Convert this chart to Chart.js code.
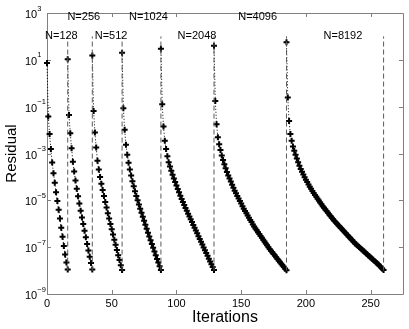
<!DOCTYPE html>
<html>
<head>
<meta charset="utf-8">
<script src="https://cdn.jsdelivr.net/npm/chart.js@4/dist/chart.umd.min.js"></script>
<style>
  html, body { margin: 0; padding: 0; background: #fff; overflow: hidden; }
</style>
</head>
<body>
<canvas id="residual-plot" width="409" height="329"></canvas>
<script>
// grid levels and the iteration at which each one starts
const gridLabels = ["N=128", "N=256", "N=512", "N=1024", "N=2048", "N=4096", "N=8192"];
const iterStart = [0, 16, 35, 58, 88, 129, 185];
const restartIters = [16, 35, 58, 88, 129, 185, 260];

// log10 of the residual, one value per iteration
const logRes128 = [0.87, -1.42, -2.17, -2.81, -3.38, -3.84, -4.25, -4.65, -5.03, -5.40, -5.78, -6.17,
  -6.55, -6.95, -7.31, -7.65, -7.95];
const logRes256 = [1.02, -1.36, -2.14, -2.78, -3.35, -3.77, -4.15, -4.50, -4.83, -5.14, -5.44, -5.73,
  -6.01, -6.30, -6.58, -6.86, -7.14, -7.41, -7.68, -7.95];
const logRes512 = [1.19, -1.18, -2.10, -2.74, -3.31, -3.68, -4.00, -4.29, -4.56, -4.82, -5.07, -5.31,
  -5.55, -5.78, -6.01, -6.24, -6.46, -6.68, -6.90, -7.12, -7.34, -7.55, -7.77, -7.98];
const logRes1024 = [1.30, -1.07, -1.99, -2.63, -3.05, -3.40, -3.68, -3.94, -4.18, -4.40, -4.61, -4.81,
  -5.00, -5.18, -5.36, -5.53, -5.70, -5.87, -6.04, -6.21, -6.38, -6.54, -6.70, -6.86, -7.02, -7.18,
  -7.34, -7.50, -7.66, -7.82, -7.98];
const logRes2048 = [1.47, -0.90, -1.85, -2.46, -2.81, -3.12, -3.37, -3.56, -3.74, -3.91, -4.07, -4.22,
  -4.37, -4.52, -4.66, -4.80, -4.94, -5.07, -5.20, -5.33, -5.45, -5.57, -5.69, -5.81, -5.93, -6.05,
  -6.17, -6.29, -6.41, -6.53, -6.65, -6.77, -6.89, -7.01, -7.13, -7.25, -7.37, -7.49, -7.61, -7.73,
  -7.85, -7.97];
const logRes4096 = [1.60, -0.76, -1.75, -2.31, -2.60, -2.85, -3.09, -3.28, -3.46, -3.63, -3.79, -3.94,
  -4.07, -4.20, -4.33, -4.46, -4.59, -4.70, -4.81, -4.92, -5.03, -5.14, -5.25, -5.36, -5.46, -5.55,
  -5.65, -5.74, -5.84, -5.93, -6.03, -6.12, -6.20, -6.28, -6.36, -6.44, -6.52, -6.60, -6.68, -6.76,
  -6.84, -6.92, -7.00, -7.08, -7.15, -7.22, -7.29, -7.36, -7.43, -7.50, -7.57, -7.64, -7.71, -7.78,
  -7.85, -7.92, -7.99];
const logRes8192 = [1.75, -0.61, -1.61, -2.17, -2.46, -2.70, -2.88, -3.05, -3.21, -3.37, -3.52, -3.66,
  -3.78, -3.90, -4.01, -4.12, -4.22, -4.32, -4.42, -4.51, -4.60, -4.69, -4.77, -4.85, -4.93, -5.01,
  -5.09, -5.17, -5.25, -5.32, -5.39, -5.46, -5.53, -5.60, -5.67, -5.74, -5.81, -5.88, -5.94, -6.00,
  -6.06, -6.12, -6.18, -6.24, -6.30, -6.36, -6.42, -6.48, -6.54, -6.60, -6.66, -6.72, -6.78, -6.84,
  -6.89, -6.94, -6.99, -7.04, -7.09, -7.14, -7.19, -7.24, -7.29, -7.34, -7.39, -7.44, -7.49, -7.54,
  -7.59, -7.64, -7.69, -7.74, -7.80, -7.86, -7.92, -7.98];

const xTicks = [0, 50, 100, 150, 200, 250];
const yTicks = [1e-9, 1e-7, 1e-5, 1e-3, 1e-1, 1e1, 1e3];
const yTickExp = ["\u22129", "\u22127", "\u22125", "\u22123", "\u22121", "1", "3"];

// where the N= labels sit (iteration, residual)
const labelIter = [11.1, 28.4, 49.5, 78.4, 115.9, 162.7, 228.6];
const labelLevel = [107, 680, 107, 680, 107, 680, 107];

const FONT = "'Liberation Sans', Arial, Helvetica, sans-serif";
const AXIS = "#808080";

const allLogRes = [logRes128, logRes256, logRes512, logRes1024, logRes2048, logRes4096, logRes8192];

const datasets = [];
restartIters.forEach((it) => {
  datasets.push({
    data: [{ x: it, y: 1e-8 }, { x: it, y: 1e2 }],
    borderColor: "#5a5a5a",
    borderWidth: 1,
    borderDash: [5, 3],
    pointRadius: 0,
    clip: false,
  });
});
allLogRes.forEach((vals, k) => {
  datasets.push({
    label: gridLabels[k],
    data: vals.map((v, i) => ({ x: iterStart[k] + i, y: Math.pow(10, v) })),
    borderColor: "#000",
    borderWidth: 1,
    borderDash: [1, 2],
    pointStyle: "cross",
    pointRadius: 3,
    pointBorderWidth: 2,
    pointBorderColor: "#000",
    pointBackgroundColor: "#000",
    tension: 0,
    clip: false,
  });
});

const framePlugin = {
  id: "frame",
  beforeDatasetsDraw(chart) {
    const { ctx, chartArea: a, scales: { x, y } } = chart;
    ctx.save();
    ctx.strokeStyle = AXIS;
    ctx.lineWidth = 1;
    ctx.beginPath();
    ctx.rect(Math.round(a.left) + 0.5, Math.round(a.top) + 0.5,
      Math.round(a.right - a.left), Math.round(a.bottom - a.top));
    xTicks.forEach((v) => {
      const px = Math.round(x.getPixelForValue(v)) + 0.5;
      ctx.moveTo(px, a.bottom); ctx.lineTo(px, a.bottom - 4);
      ctx.moveTo(px, a.top); ctx.lineTo(px, a.top + 4);
    });
    yTicks.forEach((v) => {
      const py = Math.round(y.getPixelForValue(v)) + 0.5;
      ctx.moveTo(a.left, py); ctx.lineTo(a.left + 4, py);
      ctx.moveTo(a.right, py); ctx.lineTo(a.right - 4, py);
    });
    ctx.stroke();
    ctx.restore();
  },
  afterDraw(chart) {
    const { ctx, scales: { x, y } } = chart;
    ctx.save();
    ctx.fillStyle = "#000";
    ctx.textBaseline = "middle";
    yTicks.forEach((v, i) => {
      const py = y.getPixelForValue(v);
      ctx.font = "11px " + FONT;
      ctx.textAlign = "left";
      ctx.fillText("10", 25, py + 2);
      ctx.font = "7.5px " + FONT;
      ctx.fillText(yTickExp[i], 37.3, py - 4.5);
    });
    ctx.font = "11px " + FONT;
    ctx.textAlign = "center";
    gridLabels.forEach((t, i) => {
      ctx.fillText(t, x.getPixelForValue(labelIter[i]), y.getPixelForValue(labelLevel[i]));
    });
    ctx.restore();
  },
};

new Chart(document.querySelector("#residual-plot"), {
  type: "line",
  data: { datasets },
  options: {
    responsive: false,
    animation: false,
    devicePixelRatio: 1,
    layout: { padding: { top: 13, right: 4, left: 0, bottom: 0 } },
    plugins: { legend: { display: false }, tooltip: { enabled: false } },
    scales: {
      x: {
        type: "linear",
        min: 0,
        max: 275,
        afterBuildTicks: (s) => { s.ticks = xTicks.map((v) => ({ value: v })); },
        afterFit: (s) => { s.height = 35; },
        ticks: { font: { family: FONT, size: 11 }, color: "#000", padding: 3, maxRotation: 0, autoSkip: false },
        grid: { display: false, drawTicks: false },
        border: { display: false },
        title: { display: true, text: "Iterations", color: "#000",
          font: { family: FONT, size: 16 }, padding: { top: 0, bottom: 1.5 } },
      },
      y: {
        type: "logarithmic",
        min: 1e-9,
        max: 1e3,
        afterBuildTicks: (s) => { s.ticks = yTicks.map((v) => ({ value: v })); },
        afterFit: (s) => { s.width = 47; },
        ticks: { display: false },
        grid: { display: false, drawTicks: false },
        border: { display: false },
        title: { display: true, text: "Residual", color: "#000",
          font: { family: FONT, size: 15 }, padding: { top: 2.5, bottom: 0 } },
      },
    },
  },
  plugins: [framePlugin],
});
</script>
</body>
</html>
